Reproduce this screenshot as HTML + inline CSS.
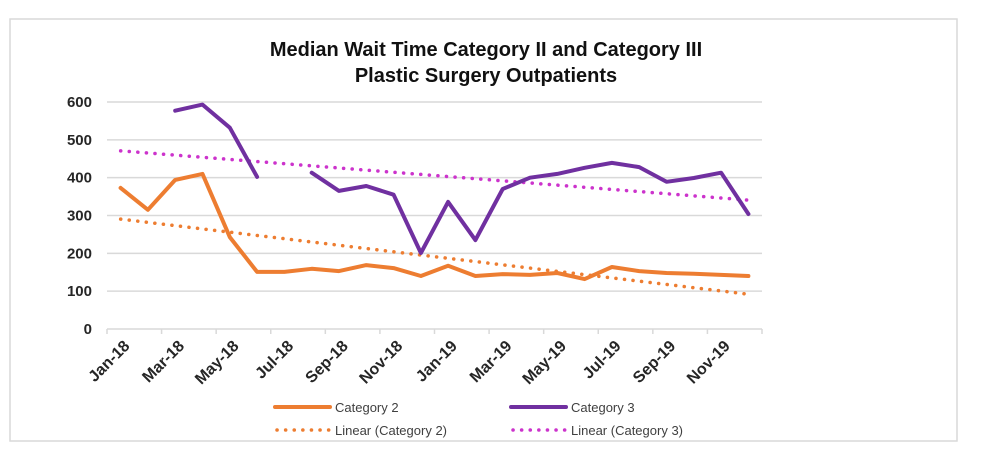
<!DOCTYPE html>
<html><head><meta charset="utf-8"><style>
body{margin:0;background:#fff;font-family:"Liberation Sans",sans-serif}
svg{display:block}
</style></head><body>
<svg width="981" height="470">
<rect x="10" y="19" width="947" height="422" fill="#fff" stroke="#d9d9d9" stroke-width="1.5"/>
<text x="486" y="56" text-anchor="middle" font-size="20" font-weight="bold" fill="#111">Median Wait Time Category II and Category III</text>
<text x="486" y="82" text-anchor="middle" font-size="20" font-weight="bold" fill="#111">Plastic Surgery Outpatients</text>
<g id="grid"></g><g id="yticks"></g><g id="xticks"></g><g id="series"></g>
<g>
<line x1="275" y1="407" x2="330" y2="407" stroke="#ed7d31" stroke-width="4" stroke-linecap="round"/>
<text x="335" y="412" font-size="13" fill="#404040">Category 2</text>
<line x1="511" y1="407" x2="566" y2="407" stroke="#7030a0" stroke-width="4" stroke-linecap="round"/>
<text x="571" y="412" font-size="13" fill="#404040">Category 3</text>
<line x1="277" y1="430" x2="330" y2="430" stroke="#ed7d31" stroke-width="3.5" stroke-dasharray="0.1 8.5" stroke-linecap="round"/>
<text x="335" y="435" font-size="13" fill="#404040">Linear (Category 2)</text>
<line x1="513" y1="430" x2="566" y2="430" stroke="#cc33cc" stroke-width="3.5" stroke-dasharray="0.1 8.5" stroke-linecap="round"/>
<text x="571" y="435" font-size="13" fill="#404040">Linear (Category 3)</text>
</g>
</svg>
<script>
const months = ["Jan-18","Feb-18","Mar-18","Apr-18","May-18","Jun-18","Jul-18","Aug-18","Sep-18","Oct-18","Nov-18","Dec-18","Jan-19","Feb-19","Mar-19","Apr-19","May-19","Jun-19","Jul-19","Aug-19","Sep-19","Oct-19","Nov-19","Dec-19"];
const cat2 = [373,315,394,410,243,151,151,159,153,169,161,140,167,140,145,143,148,132,164,153,148,146,143,140];
const cat3 = [null,null,577,593,532,402,null,413,365,378,355,201,336,235,370,400,410,426,439,428,389,399,413,304];
const yTicks = [0,100,200,300,400,500,600];
const NS="http://www.w3.org/2000/svg";
const X0=107,X1=762,Y0=329,Y600=102;
const bw=(X1-X0)/months.length;
const xs=i=>X0+bw*(i+0.5);
const ys=v=>Y0-(v/600)*(Y0-Y600);
function mk(tag,attrs,parent){const e=document.createElementNS(NS,tag);for(const k in attrs)e.setAttribute(k,attrs[k]);document.getElementById(parent).appendChild(e);return e;}
yTicks.forEach(t=>{
  const g=mk('line',{x1:X0,x2:X1,y1:ys(t),y2:ys(t),stroke:'#d9d9d9','stroke-width':1.5},'grid');
  
  
  const l=mk('text',{x:92,y:ys(t)+5,'text-anchor':'end','font-size':15,'font-weight':'bold',fill:'#262626'},'yticks');
  l.textContent=t;
  
  
});
for(let i=0;i<=months.length;i+=2){
  const tk=mk('line',{x1:X0+bw*i,x2:X0+bw*i,y1:Y0,y2:Y0+5,stroke:'#d9d9d9','stroke-width':1.5},'xticks');
  
  
}
months.forEach((m,i)=>{
  if(i%2)return;
  const x=xs(i)+2,y=Y0+10;
  const t=mk('text',{x:x,y:y,'text-anchor':'end','font-size':16,'font-weight':'bold',fill:'#262626',transform:`rotate(-45 ${x} ${y})`,dy:'0.7em'},'xticks');
  t.textContent=m;
  
  
});
function linePath(arr){let d='',pen=false;arr.forEach((v,i)=>{if(v==null){pen=false;return;}d+=(pen?'L':'M')+xs(i).toFixed(1)+' '+ys(v).toFixed(1);pen=true;});return d;}
function trend(arr){let n=0,sx=0,sy=0,sxx=0,sxy=0;arr.forEach((v,i)=>{if(v==null)return;n++;sx+=i;sy+=v;sxx+=i*i;sxy+=i*v;});const b=(n*sxy-sx*sy)/(n*sxx-sx*sx);const a=(sy-b*sx)/n;return[a,b];}
function drawTrend(arr,color,name){
  const [a,b]=trend(arr);const L=arr.length-1;
  const p=mk('line',{x1:xs(0),y1:ys(a),x2:xs(L),y2:ys(a+b*L),stroke:color,'stroke-width':3.5,'stroke-dasharray':'0.1 8.5','stroke-linecap':'round'},'series');
  
  
}
drawTrend(cat2,'#ed7d31','trendline-category-2');
drawTrend(cat3,'#cc33cc','trendline-category-3');
const p2=mk('path',{d:linePath(cat2),fill:'none',stroke:'#ed7d31','stroke-width':4,'stroke-linejoin':'round','stroke-linecap':'round'},'series');


const p3=mk('path',{d:linePath(cat3),fill:'none',stroke:'#7030a0','stroke-width':4,'stroke-linejoin':'round','stroke-linecap':'round'},'series');


</script>
</body></html>
